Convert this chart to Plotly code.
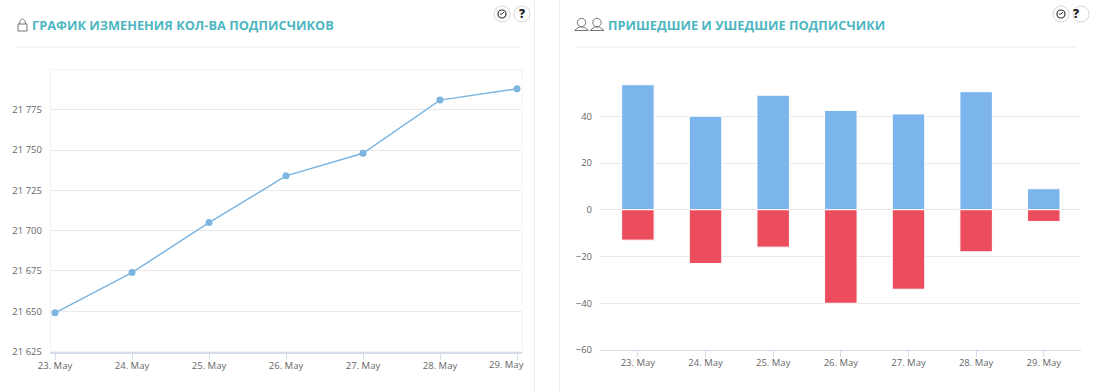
import plotly.graph_objects as go

days = ["23. May", "24. May", "25. May", "26. May", "27. May", "28. May", "29. May"]
subscribers = [21649, 21674, 21705, 21734, 21748, 21781, 21788]
came = [53.5, 40, 49, 42.5, 41, 50.5, 9]
left = [-13, -23, -16, -40, -34, -18, -5]
left_ticks = [21625, 21650, 21675, 21700, 21725, 21750, 21775, 21800]
left_tick_labels = ["21 625", "21 650", "21 675", "21 700", "21 725", "21 750", "21 775", ""]
right_ticks = [-60, -40, -20, 0, 20, 40, 60]
right_tick_labels = ["−60", "−40", "−20", "0", "20", "40", ""]
title_left = "ГРАФИК ИЗМЕНЕНИЯ КОЛ-ВА ПОДПИСЧИКОВ"
title_right = "ПРИШЕДШИЕ И УШЕДШИЕ ПОДПИСЧИКИ"

W, H = 1094, 392
FONT = "Open Sans"
TICK = "#666666"
TEAL = "#4db6c1"
GRID = "#e9e9ec"
AXIS = "#d5dbe8"

def px(x): return x / W
def py(y): return 1 - y / H

fig = go.Figure()
idx = list(range(len(days)))
fig.add_trace(go.Scatter(x=idx, y=subscribers, mode="lines+markers", xaxis="x", yaxis="y",
                         line=dict(color="#7cb5e0", width=1.5), marker=dict(color="#7cb5e0", size=7),
                         cliponaxis=False, showlegend=False))
fig.add_trace(go.Bar(x=idx, y=came, xaxis="x2", yaxis="y2", width=0.48, marker=dict(color="#7cb5ec", line=dict(color="#ffffff", width=1)), showlegend=False))
fig.add_trace(go.Bar(x=idx, y=left, xaxis="x2", yaxis="y2", width=0.48, marker=dict(color="#eb4d5c", line=dict(color="#ffffff", width=1)), showlegend=False))

tickfont = dict(family=FONT, size=9.5, color=TICK)
shapes = []
def line(x0, y0, x1, y1, c="#eeeeee", w=1):
    shapes.append(dict(type="line", xref="paper", yref="paper", x0=px(x0), y0=py(y0), x1=px(x1), y1=py(y1),
                       line=dict(color=c, width=w)))
def circle(cx, cy, r, c="#d9d9d9", w=1, fill="rgba(0,0,0,0)"):
    shapes.append(dict(type="circle", xref="paper", yref="paper", x0=px(cx-r), y0=py(cy-r), x1=px(cx+r), y1=py(cy+r),
                       line=dict(color=c, width=w), fillcolor=fill))
def rect(x0, y0, x1, y1, c="#777777", w=1):
    shapes.append(dict(type="rect", xref="paper", yref="paper", x0=px(x0), y0=py(y0), x1=px(x1), y1=py(y1),
                       line=dict(color=c, width=w)))

# panel separators and title rules
line(534.5, 0, 534.5, 392, "#ececec")
line(559.5, 0, 559.5, 392, "#ececec")
line(16, 47, 520, 47)
line(576, 47, 1076, 47)
# plot frame of left chart
rect(50.5, 69.5, 522, 351.5, "#f2f2f2")
# small round buttons
for cx in (502, 522, 1061, 1081):
    circle(cx, 14, 8, "#d8d8d8")
for cx in (502, 1061):
    circle(cx, 14, 4, "#333333", 1.2)
    line(cx, 14, cx + 2, 12, "#333333")
    line(cx, 14, cx - 2, 14, "#333333")
# lock icon
rect(18, 24, 27, 31, "#777777")
shapes.append(dict(type="path", xref="paper", yref="paper",
                   path=f"M {px(19.5)} {py(24)} C {px(19.5)} {py(17.5)}, {px(25.5)} {py(17.5)}, {px(25.5)} {py(24)}",
                   line=dict(color="#777777", width=1)))
# people icons
for cx in (581.5, 597):
    circle(cx, 22.5, 4.2, "#777777")
    shapes.append(dict(type="path", xref="paper", yref="paper",
                       path=f"M {px(cx-7)} {py(30.5)} L {px(cx+7)} {py(30.5)} L {px(cx+2.5)} {py(27)} L {px(cx-2.5)} {py(27)} Z",
                       line=dict(color="#777777", width=1)))

annotations = [
    dict(text=title_left, xref="paper", yref="paper", x=px(29.5), y=py(24.5), xanchor="left", yanchor="middle",
         showarrow=False, font=dict(family=FONT, size=12.75, color=TEAL, weight=700)),
    dict(text=title_right, xref="paper", yref="paper", x=px(605.5), y=py(24.5), xanchor="left", yanchor="middle",
         showarrow=False, font=dict(family=FONT, size=12.75, color=TEAL, weight=700)),
    dict(text="?", xref="paper", yref="paper", x=px(522), y=py(14), yanchor="middle", showarrow=False,
         font=dict(family=FONT, size=12, color="#222222", weight=800)),
    dict(text="?", xref="paper", yref="paper", x=px(1081), y=py(14), yanchor="middle", showarrow=False,
         font=dict(family=FONT, size=12, color="#222222", weight=800)),
    # last date label of the left chart sits shifted left so it stays inside the panel
    dict(text=days[-1], xref="paper", yref="paper", x=px(506), y=py(364), xanchor="center", yanchor="middle",
         showarrow=False, font=tickfont),
]

left_x_labels = days[:-1] + [""]

fig.update_layout(
    width=W, height=H, autosize=False, margin=dict(l=0, r=0, t=0, b=0, autoexpand=False),
    paper_bgcolor="#ffffff", plot_bgcolor="#ffffff", barmode="relative", bargap=0.5,
    font=dict(family=FONT), shapes=shapes, annotations=annotations,
    xaxis=dict(domain=[px(50), px(522)], range=[-0.065, 6.065], tickvals=idx, ticktext=left_x_labels, tickfont=tickfont,
               ticks="outside", ticklen=6, tickcolor=AXIS, showgrid=False, showline=True, linecolor=AXIS,
               linewidth=2, zeroline=False, anchor="y", automargin=False, ticklabelstandoff=-2),
    yaxis=dict(domain=[py(351.5), py(69.5)], range=[21625, 21800], tickvals=left_ticks, ticktext=left_tick_labels,
               tickfont=tickfont, showgrid=True, gridcolor=GRID, gridwidth=1, zeroline=False, ticks="", anchor="x",
               automargin=False, ticklabelstandoff=7),
    xaxis2=dict(domain=[px(600), px(1081)], range=[-0.56, 6.55], tickvals=idx, ticktext=days, tickfont=tickfont,
                ticks="outside", ticklen=6, tickcolor=AXIS, showgrid=False, showline=True, linecolor=AXIS,
                linewidth=1, zeroline=False, anchor="y2", automargin=False, ticklabelstandoff=-2),
    yaxis2=dict(domain=[py(350), py(69.5)], range=[-60, 60], tickvals=right_ticks, ticktext=right_tick_labels,
                tickfont=tickfont, showgrid=True, gridcolor=GRID, gridwidth=1, zeroline=True, zerolinecolor=GRID,
                zerolinewidth=1, ticks="", anchor="x2", automargin=False, ticklabelstandoff=7),
)
fig.write_html("out.html", config=dict(displayModeBar=False),
               post_script="document.body.style.margin='0';document.body.style.overflow='hidden';")
